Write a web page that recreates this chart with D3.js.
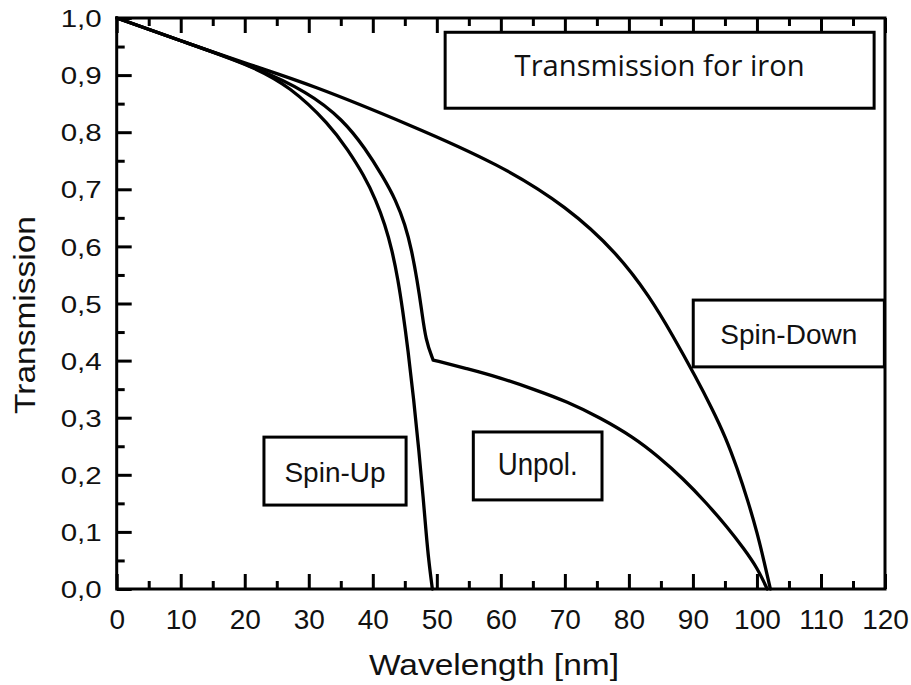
<!DOCTYPE html>
<html>
<head>
<meta charset="utf-8">
<script src="https://cdn.jsdelivr.net/npm/d3@7"></script>
<style>
  html, body { margin: 0; padding: 0; background: #fff; }
  svg { display: block; }
  text { fill: #111; }
</style>
</head>
<body>
<svg id="chart" width="911" height="685"></svg>
<script>
// Wavelength samples (nm) and transmission for each polarisation
const spinDownX = [0, 10, 20.8, 30.2, 45.8, 59.9, 70.4, 78.2, 83.3, 86.8, 90.5, 92.9, 95.1, 96.9, 98.6, 100.05, 101.1, 102.1];
const spinDownY = [1.0, 0.96, 0.918, 0.884, 0.813, 0.743, 0.669, 0.588, 0.511, 0.445, 0.37, 0.318, 0.266, 0.212, 0.154, 0.098, 0.049, 0.0];

const spinUpX = [0, 10, 20.8, 27.1, 33.3, 36.1, 38.6, 40.5, 41.9, 43.0, 43.95, 44.66, 45.5, 46.4, 47.2, 47.9, 48.33, 48.72, 49.3];
const spinUpY = [1.0, 0.96, 0.918, 0.88, 0.813, 0.769, 0.725, 0.681, 0.638, 0.594, 0.541, 0.489, 0.419, 0.331, 0.243, 0.156, 0.098, 0.051, 0.0];

// Unpolarised beam: the kink at the spin-up cut-off splits the curve in two branches
const unpolKnee = 49.42;
const unpolX = [0, 10, 20.8, 30.0, 35.4, 38.8, 41.6, 43.6, 45.05, 46.06, 46.92, 47.63, 48.25, 49.42, 54.7, 59.9, 65.1, 70.4, 75.5, 80.7, 84.6, 88.5, 92.0, 95.4, 98.0, 100.05, 101.6];
const unpolY = [1.0, 0.96, 0.918, 0.87, 0.821, 0.772, 0.722, 0.681, 0.638, 0.594, 0.541, 0.489, 0.436, 0.401, 0.386, 0.37, 0.35, 0.328, 0.3, 0.266, 0.232, 0.193, 0.152, 0.108, 0.07, 0.037, 0.0];

const xMajorTicks = [0, 10, 20, 30, 40, 50, 60, 70, 80, 90, 100, 110, 120];
const xMinorTicks = [5, 15, 25, 35, 45, 55, 65, 75, 85, 95, 105, 115];
const yMajorTicks = [0, 0.1, 0.2, 0.3, 0.4, 0.5, 0.6, 0.7, 0.8, 0.9, 1.0];
const yMinorTicks = [0.05, 0.15, 0.25, 0.35, 0.45, 0.55, 0.65, 0.75, 0.85, 0.95];

const boxLabels = ["Transmission for iron", "Spin-Down", "Spin-Up", "Unpol."];

const svg = d3.select("#chart");
const margin = { left: 116.7, top: 18, right: 26, bottom: 96 };
const W = 911, H = 685;
const innerW = W - margin.left - margin.right;
const innerH = H - margin.top - margin.bottom;

const x = d3.scaleLinear().domain([0, 120]).range([0, innerW]);
const y = d3.scaleLinear().domain([0, 1]).range([innerH, 0]);

const comma = d3.formatLocale({ decimal: ",", thousands: ".", grouping: [3], currency: ["", ""] });
const fmtY = comma.format(".1f");

const g = svg.append("g").attr("transform", `translate(${margin.left},${margin.top})`);

const axisFont = "'Liberation Sans', Arial, sans-serif";

// Bottom axis: labelled major ticks pointing inward, plus minor ticks
const xAxisMajor = g.append("g")
  .attr("transform", `translate(0,${innerH})`)
  .call(d3.axisBottom(x).tickValues(xMajorTicks).tickSize(-15).tickPadding(20).tickFormat(d3.format("d")));
xAxisMajor.selectAll("text").attr("font-family", axisFont).attr("font-size", 28).attr("fill", "#111");
g.append("g")
  .attr("transform", `translate(0,${innerH})`)
  .call(d3.axisBottom(x).tickValues(xMinorTicks).tickSize(-8).tickFormat(""));

// Top axis: mirrored ticks without labels
g.append("g").call(d3.axisTop(x).tickValues(xMajorTicks).tickSize(-15).tickFormat(""));
g.append("g").call(d3.axisTop(x).tickValues(xMinorTicks).tickSize(-8).tickFormat(""));

// Left axis with comma decimals
const yAxisMajor = g.append("g")
  .call(d3.axisLeft(y).tickValues(yMajorTicks).tickSize(-15).tickPadding(15).tickFormat(fmtY));
yAxisMajor.selectAll("text")
  .attr("font-family", axisFont).attr("font-size", 24).attr("fill", "#111")
  .attr("dy", "0.36em")
  .attr("textLength", 41).attr("lengthAdjust", "spacingAndGlyphs");
g.append("g").call(d3.axisLeft(y).tickValues(yMinorTicks).tickSize(-8).tickFormat(""));

g.selectAll(".domain").remove();
g.selectAll(".tick line").attr("stroke", "#000").attr("stroke-width", 3);

// Plot frame
g.append("rect")
  .attr("x", 0).attr("y", 0).attr("width", innerW).attr("height", innerH)
  .attr("fill", "none").attr("stroke", "#000").attr("stroke-width", 3);

// Curves (smoothed B-spline through the sampled points)
const line = d3.line()
  .x(d => x(d[0]))
  .y(d => y(d[1]))
  .curve(d3.curveBasis);

const pts = (xs, ys) => xs.map((v, i) => [v, ys[i]]);
const unpolPts = pts(unpolX, unpolY);
const paths = [
  line(pts(spinDownX, spinDownY)),
  line(unpolPts.filter(d => d[0] <= unpolKnee)) + line(unpolPts.filter(d => d[0] >= unpolKnee)),
  line(pts(spinUpX, spinUpY))
];
g.selectAll("path.curve")
  .data(paths)
  .join("path")
  .attr("class", "curve")
  .attr("d", d => d)
  .attr("fill", "none")
  .attr("stroke", "#000")
  .attr("stroke-width", 3.3)
  .attr("stroke-linecap", "round")
  .attr("stroke-linejoin", "round");

// Annotation boxes (positions in data units)
const boxes = [
  { label: boxLabels[0], x0: 51.3, x1: 118.3, y0: 0.975, y1: 0.842, font: "'Open Sans', 'Noto Sans', sans-serif", size: 29, len: 290, base: 0.899 },
  { label: boxLabels[1], x0: 90.05, x1: 119.9, y0: 0.506, y1: 0.389, font: axisFont, size: 28, len: null, base: 0.429 },
  { label: boxLabels[2], x0: 23.0, x1: 45.2, y0: 0.266, y1: 0.147, font: axisFont, size: 28, len: null, base: 0.188 },
  { label: boxLabels[3], x0: 55.7, x1: 75.8, y0: 0.275, y1: 0.156, font: axisFont, size: 31, len: 80, base: 0.2 }
];

const ann = g.selectAll("g.ann").data(boxes).join("g").attr("class", "ann");
ann.append("rect")
  .attr("x", d => x(d.x0)).attr("y", d => y(d.y0))
  .attr("width", d => x(d.x1) - x(d.x0)).attr("height", d => y(d.y1) - y(d.y0))
  .attr("fill", "#fff").attr("stroke", "#000").attr("stroke-width", 3);
ann.append("text")
  .attr("x", d => (x(d.x0) + x(d.x1)) / 2)
  .attr("y", d => y(d.base))
  .attr("text-anchor", "middle")
  .attr("font-family", d => d.font)
  .attr("font-size", d => d.size)
  .each(function (d) {
    if (d.len) d3.select(this).attr("textLength", d.len).attr("lengthAdjust", "spacingAndGlyphs");
  })
  .text(d => d.label);

// Axis titles
svg.append("text")
  .attr("x", 494).attr("y", 675)
  .attr("text-anchor", "middle")
  .attr("font-family", axisFont).attr("font-size", 30)
  .attr("textLength", 250).attr("lengthAdjust", "spacingAndGlyphs")
  .text("Wavelength [nm]");

svg.append("text")
  .attr("transform", "translate(35,315) rotate(-90)")
  .attr("text-anchor", "middle")
  .attr("font-family", axisFont).attr("font-size", 29)
  .attr("textLength", 198).attr("lengthAdjust", "spacingAndGlyphs")
  .text("Transmission");
</script>
</body>
</html>
